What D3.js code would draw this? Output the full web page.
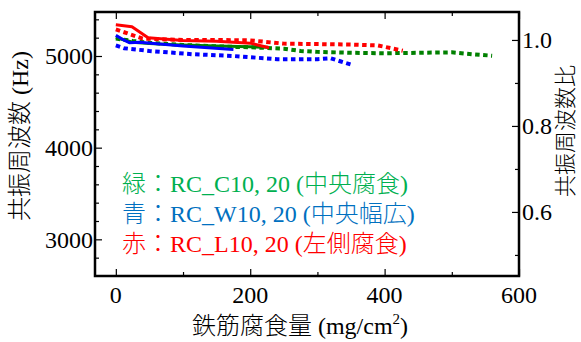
<!DOCTYPE html>
<html>
<head>
<meta charset="utf-8">
<script src="https://cdn.jsdelivr.net/npm/d3@7/dist/d3.min.js"></script>
<style>
  html, body { margin: 0; padding: 0; background: #fff; }
  svg { display: block; }
  text { font-family: "Liberation Serif", "Noto Sans CJK JP Light", "Noto Sans CJK JP DemiLight", "Noto Sans CJK JP", serif; fill: #000; font-weight: 300; }
</style>
</head>
<body>
<svg id="chart" width="581" height="342"></svg>
<script>
// Corrosion amount (mg/cm2) vs resonance frequency (Hz)
const greenSolidX = [0, 10, 25, 50, 100, 150, 200, 227];
const greenSolidY = [5205, 5180, 5150, 5135, 5120, 5110, 5100, 5095];
const greenDotX = [0, 25, 50, 100, 150, 200, 250, 275, 300, 350, 400, 450, 500, 530, 560];
const greenDotY = [5190, 5165, 5145, 5120, 5105, 5095, 5080, 5055, 5045, 5035, 5030, 5035, 5040, 5020, 5003];
const blueSolidX = [0, 8, 20, 35, 100, 175];
const blueSolidY = [5225, 5190, 5145, 5150, 5110, 5070];
const blueDotX = [0, 12, 50, 113, 175, 240, 300, 320, 335, 353];
const blueDotY = [5115, 5085, 5055, 5020, 5000, 4965, 4965, 4975, 4940, 4900];
const redSolidX = [0, 24, 48, 100, 150, 200, 228];
const redSolidY = [5340, 5320, 5200, 5170, 5160, 5140, 5090];
const redDotX = [0, 40, 100, 150, 200, 250, 300, 350, 390, 410, 427];
const redDotY = [5290, 5190, 5175, 5175, 5170, 5135, 5130, 5125, 5115, 5085, 5058];

const xTicks = [0, 200, 400, 600];
const xMinor = [100, 300, 500];
const yTicks = [3000, 4000, 5000];
const yMinor = [2800, 3200, 3400, 3600, 3800, 4200, 4400, 4600, 4800, 5200, 5400];
const rTicks = [0.6, 0.8, 1.0];
const rMinor = [0.5, 0.7, 0.9];

const legendLines = [
  { text: "緑：RC_C10, 20 (中央腐食)", color: "#00b050" },
  { text: "青：RC_W10, 20 (中央幅広)", color: "#0070c0" },
  { text: "赤：RC_L10, 20 (左側腐食)", color: "#ff0000" }
];

const L = 95, R = 519, T = 12, B = 276;
const svg = d3.select("#chart");

const x = d3.scaleLinear().domain([-31, 600]).range([L, R]);
const y = d3.scaleLinear().domain([2600, 5480]).range([B, T]);
const yr = d3.scaleLinear().domain([0.451, 1.065]).range([B, T]);

const zip = (xs, ys) => xs.map((v, i) => [v, ys[i]]);
const line = d3.line().x(d => x(d[0])).y(d => y(d[1]));

const plot = svg.append("g");
const series = [
  { d: zip(greenDotX, greenDotY), c: "#008000", dot: true },
  { d: zip(blueDotX, blueDotY), c: "#0000ff", dot: true },
  { d: zip(redDotX, redDotY), c: "#ff0000", dot: true },
  { d: zip(greenSolidX, greenSolidY), c: "#008000", dot: false },
  { d: zip(blueSolidX, blueSolidY), c: "#0000ff", dot: false },
  { d: zip(redSolidX, redSolidY), c: "#ff0000", dot: false }
];
series.forEach(s => {
  plot.append("path")
    .attr("d", line(s.d))
    .attr("fill", "none")
    .attr("stroke", s.c)
    .attr("stroke-width", s.dot ? 4 : 3)
    .attr("stroke-dasharray", s.dot ? "4.5,3.5" : null)
    .attr("stroke-linejoin", "round");
});

// Axes with inward ticks
function ticksG(axis, tf, major, minor) {
  const g = svg.append("g").attr("transform", tf);
  g.call(axis.tickValues(major).tickSizeInner(7).tickSizeOuter(0).tickFormat(""));
  g.select(".domain").remove();
  g.selectAll(".tick line").attr("stroke", "#000").attr("stroke-width", 1.2);
  const g2 = svg.append("g").attr("transform", tf);
  g2.call(axis.tickValues(minor).tickSizeInner(4).tickSizeOuter(0).tickFormat(""));
  g2.select(".domain").remove();
  g2.selectAll(".tick line").attr("stroke", "#000").attr("stroke-width", 1.2);
}
ticksG(d3.axisTop(x), `translate(0,${B})`, xTicks, xMinor);
ticksG(d3.axisBottom(x), `translate(0,${T})`, xTicks, xMinor);
ticksG(d3.axisRight(y), `translate(${L},0)`, yTicks, yMinor.filter(v => y(v) > T && y(v) < B));
ticksG(d3.axisLeft(yr), `translate(${R},0)`, rTicks, rMinor);

// Frame
svg.append("rect").attr("x", L).attr("y", T).attr("width", R - L).attr("height", B - T)
  .attr("fill", "none").attr("stroke", "#000").attr("stroke-width", 2.5);

// Tick labels
svg.append("g").selectAll("text").data(xTicks).join("text")
  .attr("x", d => x(d)).attr("y", 303).attr("text-anchor", "middle")
  .attr("font-size", 24).text(d => d);
svg.append("g").selectAll("text").data(yTicks).join("text")
  .attr("x", L - 2).attr("y", d => y(d)).attr("dy", "0.35em").attr("text-anchor", "end")
  .attr("font-size", 24).text(d => d);
svg.append("g").selectAll("text").data(rTicks).join("text")
  .attr("x", R + 3).attr("y", d => yr(d)).attr("dy", "0.35em").attr("text-anchor", "start")
  .attr("font-size", 24).text(d => d3.format(".1f")(d));

// Axis titles
const xt = svg.append("text").attr("x", 300).attr("y", 334).attr("text-anchor", "middle").attr("font-size", 24);
xt.append("tspan").text("鉄筋腐食量 (mg/cm");
xt.append("tspan").attr("font-size", 15).attr("dy", -10).text("2");
xt.append("tspan").attr("dy", 10).text(")");

svg.append("text").attr("transform", "translate(28,136) rotate(-90)")
  .attr("text-anchor", "middle").attr("font-size", 24).text("共振周波数 (Hz)");
svg.append("text").attr("transform", "translate(573,131) rotate(-90)")
  .attr("text-anchor", "middle").attr("font-size", 22).text("共振周波数比");

// Legend text
svg.append("g").selectAll("text").data(legendLines).join("text")
  .attr("x", 122).attr("y", (d, i) => 192 + i * 30)
  .attr("font-size", 24).attr("fill", d => d.color).style("fill", d => d.color)
  .text(d => d.text);
</script>
</body>
</html>
